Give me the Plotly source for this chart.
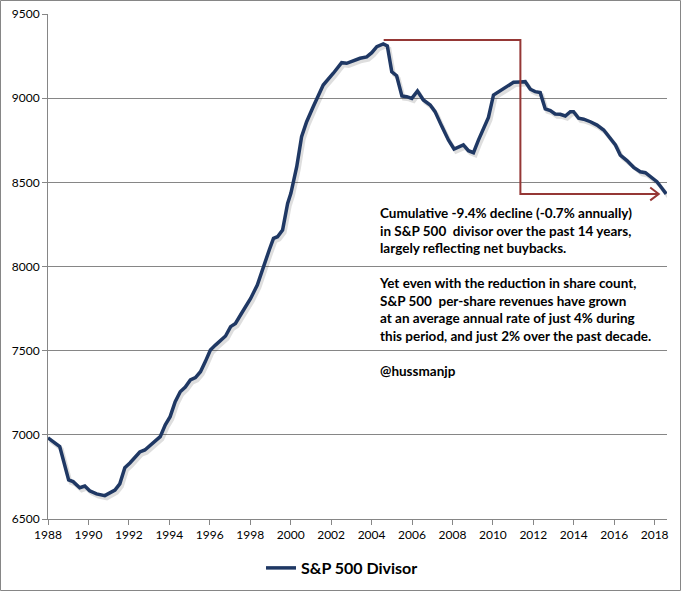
import plotly.graph_objects as go

# S&P 500 Divisor
years = [1988.00, 1988.58, 1989.02, 1989.24, 1989.57, 1989.82, 1990.06, 1990.40, 1990.81, 1991.06,
         1991.31, 1991.55, 1991.80, 1992.05, 1992.54, 1992.79, 1993.19, 1993.55, 1993.80, 1994.04,
         1994.29, 1994.54, 1994.79, 1995.04, 1995.29, 1995.54, 1995.78, 1996.03, 1996.28, 1996.53,
         1996.78, 1997.03, 1997.27, 1997.52, 1997.77, 1998.02, 1998.35, 1998.69, 1998.94, 1999.15,
         1999.35, 1999.60, 1999.85, 2000.01, 2000.13, 2000.30, 2000.54, 2000.79, 2001.12, 2001.61,
         2002.11, 2002.52, 2002.77, 2003.10, 2003.43, 2003.76, 2004.01, 2004.26, 2004.58, 2004.78,
         2005.00, 2005.24, 2005.50, 2005.74, 2005.99, 2006.27, 2006.56, 2006.90, 2007.14, 2007.48,
         2007.80, 2008.08, 2008.54, 2008.79, 2009.04, 2009.29, 2009.53, 2009.78, 2010.03, 2010.28,
         2010.52, 2010.77, 2011.02, 2011.35, 2011.60, 2011.85, 2012.09, 2012.34, 2012.59, 2012.84,
         2013.08, 2013.33, 2013.58, 2013.83, 2013.99, 2014.24, 2014.49, 2014.82, 2015.15, 2015.48,
         2015.72, 2016.06, 2016.30, 2016.63, 2016.96, 2017.29, 2017.54, 2017.78, 2018.11, 2018.36,
         2018.57]
divisor = [6982, 6930, 6732, 6722, 6686, 6696, 6668, 6649, 6639, 6655,
           6672, 6709, 6805, 6833, 6898, 6910, 6951, 6989, 7059, 7108,
           7197, 7256, 7284, 7326, 7340, 7375, 7435, 7504, 7533, 7563,
           7587, 7643, 7662, 7712, 7761, 7810, 7890, 8019, 8098, 8167,
           8177, 8217, 8375, 8435, 8494, 8593, 8771, 8860, 8950, 9078,
           9148, 9211, 9207, 9223, 9237, 9245, 9270, 9306, 9322, 9310,
           9157, 9133, 9013, 9009, 8999, 9043, 8989, 8959, 8920, 8831,
           8752, 8698, 8722, 8688, 8676, 8752, 8822, 8886, 9019, 9039,
           9053, 9078, 9094, 9096, 9098, 9053, 9039, 9033, 8936, 8926,
           8906, 8904, 8894, 8920, 8920, 8881, 8875, 8860, 8840, 8811,
           8771, 8722, 8662, 8629, 8589, 8563, 8557, 8533, 8504, 8465,
           8431]

# Red bracket arrow (peak level -> latest level)
arrow_x = [2004.6, 2011.36, 2011.36, 2018.2]
arrow_y = [9345, 9345, 8431, 8431]

y_ticks = [6500, 7000, 7500, 8000, 8500, 9000, 9500]
x_ticks = list(range(1988, 2019, 2))

note_text = ("Cumulative -9.4% decline (-0.7% annually)<br>"
             "in S&P 500  divisor over the past 14 years,<br>"
             "largely reflecting net buybacks.<br><br>"
             "Yet even with the reduction in share count,<br>"
             "S&P 500  per-share revenues have grown<br>"
             "at an average annual rate of just 4% during<br>"
             "this period, and just 2% over the past decade.<br><br>"
             "@hussmanjp")

LINE = "#1F3864"
RED = "#953735"
GRID = "#868686"
FONT = "Lato"

fig = go.Figure()

# soft shadow under the series (Excel style)
fig.add_trace(go.Scatter(
    x=[v + 0.1 for v in years], y=[v - 16 for v in divisor],
    mode="lines", line=dict(color="rgba(0,0,0,0.13)", width=4),
    hoverinfo="skip", showlegend=False))

fig.add_trace(go.Scatter(
    x=years, y=divisor, mode="lines", name="S&P 500 Divisor",
    line=dict(color=LINE, width=3.5)))

# bracket path (without head)
fig.add_trace(go.Scatter(
    x=arrow_x[:-1] + [arrow_x[-1] - 0.05], y=arrow_y[:-1] + [arrow_y[-1]],
    mode="lines", line=dict(color=RED, width=2),
    hoverinfo="skip", showlegend=False))

# open chevron arrow head
hx, hy = arrow_x[-1], arrow_y[-1]
fig.add_shape(type="path", xref="x", yref="y",
              path=f"M {hx-0.42},{hy+38} L {hx},{hy} L {hx-0.42},{hy-38}",
              line=dict(color=RED, width=2))

fig.add_annotation(
    x=2004.25, y=8375, xref="x", yref="y", xanchor="left", yanchor="top",
    text=note_text, showarrow=False, align="left",
    font=dict(family=FONT, size=13.5, color="#000000", weight="bold"))

# outer chart border
fig.add_shape(type="rect", xref="paper", yref="paper",
              x0=-47.5 / 619, x1=(680.5 - 48) / 619,
              y0=(519 - 590.5) / 505, y1=(519 - 0.5) / 505,
              line=dict(color=GRID, width=1), fillcolor="rgba(0,0,0,0)")

fig.update_layout(
    width=682, height=592,
    margin=dict(l=48, r=15, t=14, b=73, autoexpand=False),
    paper_bgcolor="white", plot_bgcolor="white",
    font=dict(family=FONT, size=12, color="#000000"),
    showlegend=True,
    legend=dict(orientation="h", x=0.475, y=-0.097, xanchor="center", yanchor="middle",
                font=dict(family=FONT, size=16, color="#000000", weight="bold"),
                itemwidth=30),
)

fig.update_xaxes(
    range=[1988, 2018.61], tickmode="array", tickvals=x_ticks,
    ticktext=[str(t) for t in x_ticks], automargin=False,
    showgrid=False, showline=True, linecolor=GRID, linewidth=1,
    ticks="outside", ticklen=5, tickcolor=GRID,
    tickfont=dict(family=FONT, size=12, color="#000000"), zeroline=False)

fig.update_yaxes(
    range=[6500, 9500], tickmode="array", tickvals=y_ticks,
    ticktext=[str(t) for t in y_ticks], automargin=False,
    showgrid=True, gridcolor=GRID, gridwidth=1,
    showline=True, linecolor=GRID, linewidth=1,
    ticks="outside", ticklen=5, tickcolor=GRID,
    tickfont=dict(family=FONT, size=12, color="#000000"), zeroline=False)

fig.write_html("out.html")
